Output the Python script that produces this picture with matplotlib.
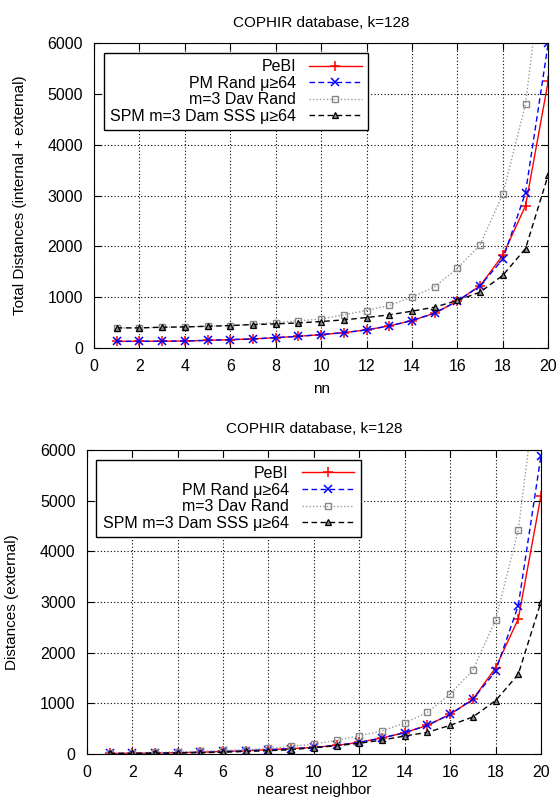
import numpy as np
import matplotlib
matplotlib.use('Agg')
import matplotlib.pyplot as plt

plt.rcParams['font.family'] = ['Liberation Sans', 'DejaVu Sans']

nn = np.arange(1, 21)

labels = ['PeBI', 'PM Rand \u03bc\u226564', 'm=3 Dav Rand', 'SPM m=3 Dam SSS \u03bc\u226564']

# total distances (internal + external)
tot_pebi = [130, 132, 133, 138, 150, 165, 178, 204, 230, 264, 303, 356, 435, 540, 686, 923, 1226, 1826, 2800, 5254]
tot_pm   = [130, 132, 133, 138, 150, 165, 178, 204, 230, 264, 303, 356, 435, 540, 686, 923, 1226, 1747, 3060, 6000]
tot_dav  = [396, 396, 409, 415, 428, 442, 468, 500, 534, 573, 653, 738, 837, 1002, 1206, 1569, 2030, 3032, 4800, 8500]
tot_spm  = [396, 396, 409, 415, 428, 442, 461, 475, 494, 521, 554, 600, 653, 725, 804, 936, 1100, 1430, 1958, 3408]

# external distances
ext_pebi = [10, 15, 20, 25, 35, 50, 65, 85, 105, 130, 170, 230, 316, 421, 566, 783, 1079, 1700, 2664, 5099]
ext_pm   = [10, 15, 20, 25, 35, 50, 65, 85, 105, 130, 170, 230, 316, 421, 566, 783, 1079, 1632, 2928, 5888]
ext_dav  = [15, 20, 30, 40, 55, 70, 85, 110, 150, 197, 270, 362, 454, 612, 822, 1184, 1651, 2645, 4414, 8000]
ext_spm  = [10, 12, 15, 20, 25, 35, 50, 65, 85, 125, 164, 210, 276, 355, 428, 566, 730, 1053, 1572, 3000]

styles = [
    dict(color='red', ls='-', marker='+', ms=7, mew=1.1),
    dict(color='blue', ls=(0, (4, 2.5)), marker='x', ms=5.5, mew=1.1),
    dict(color='#999999', ls=(0, (1, 1.5)), marker='s', ms=5, mfc='none', mec='#888888', mew=1.0),
    dict(color='black', ls=(0, (4, 2.5)), marker='^', ms=5, mfc='#888888', mec='black', mew=0.9),
]


def draw(ax, series, xlabel, ylabel, xpad):
    for y, lab, st in zip(series, labels, styles):
        ax.plot(nn, y, lw=1.0, label=lab, **st)
    ax.set_xlim(0, 20)
    ax.set_ylim(0, 6000)
    ax.set_xticks(range(0, 21, 2))
    ax.set_yticks(range(0, 6001, 1000))
    ax.grid(True, color='black', ls=(0, (1, 2)), lw=0.8)
    ax.tick_params(direction='in', top=True, right=True, length=5, labelsize=11.5, pad=8)
    ax.set_title('COPHIR database, k=128', fontsize=11, pad=12)
    ax.set_xlabel(xlabel, fontsize=11, labelpad=xpad)
    ax.set_ylabel(ylabel, fontsize=11, labelpad=15)
    leg = ax.legend(loc='upper left', markerfirst=False, fancybox=False, framealpha=1,
                    edgecolor='black', fontsize=11.5, handlelength=3.3, labelspacing=0.1,
                    borderpad=0.4, borderaxespad=0.6, handletextpad=0.8)
    leg.get_frame().set_linewidth(1.0)
    for t in leg.get_texts():
        t.set_ha('right')


fig = plt.figure(figsize=(5.6, 8), dpi=100)
ax1 = fig.add_axes([0.168, 0.565, 0.811, 0.381])
ax2 = fig.add_axes([0.155, 0.0575, 0.811, 0.38])

draw(ax1, [tot_pebi, tot_pm, tot_dav, tot_spm], 'nn', 'Total Distances (internal + external)', 6)
draw(ax2, [ext_pebi, ext_pm, ext_dav, ext_spm], 'nearest neighbor', 'Distances (external)', 2)

fig.savefig('out.png', dpi=100)
